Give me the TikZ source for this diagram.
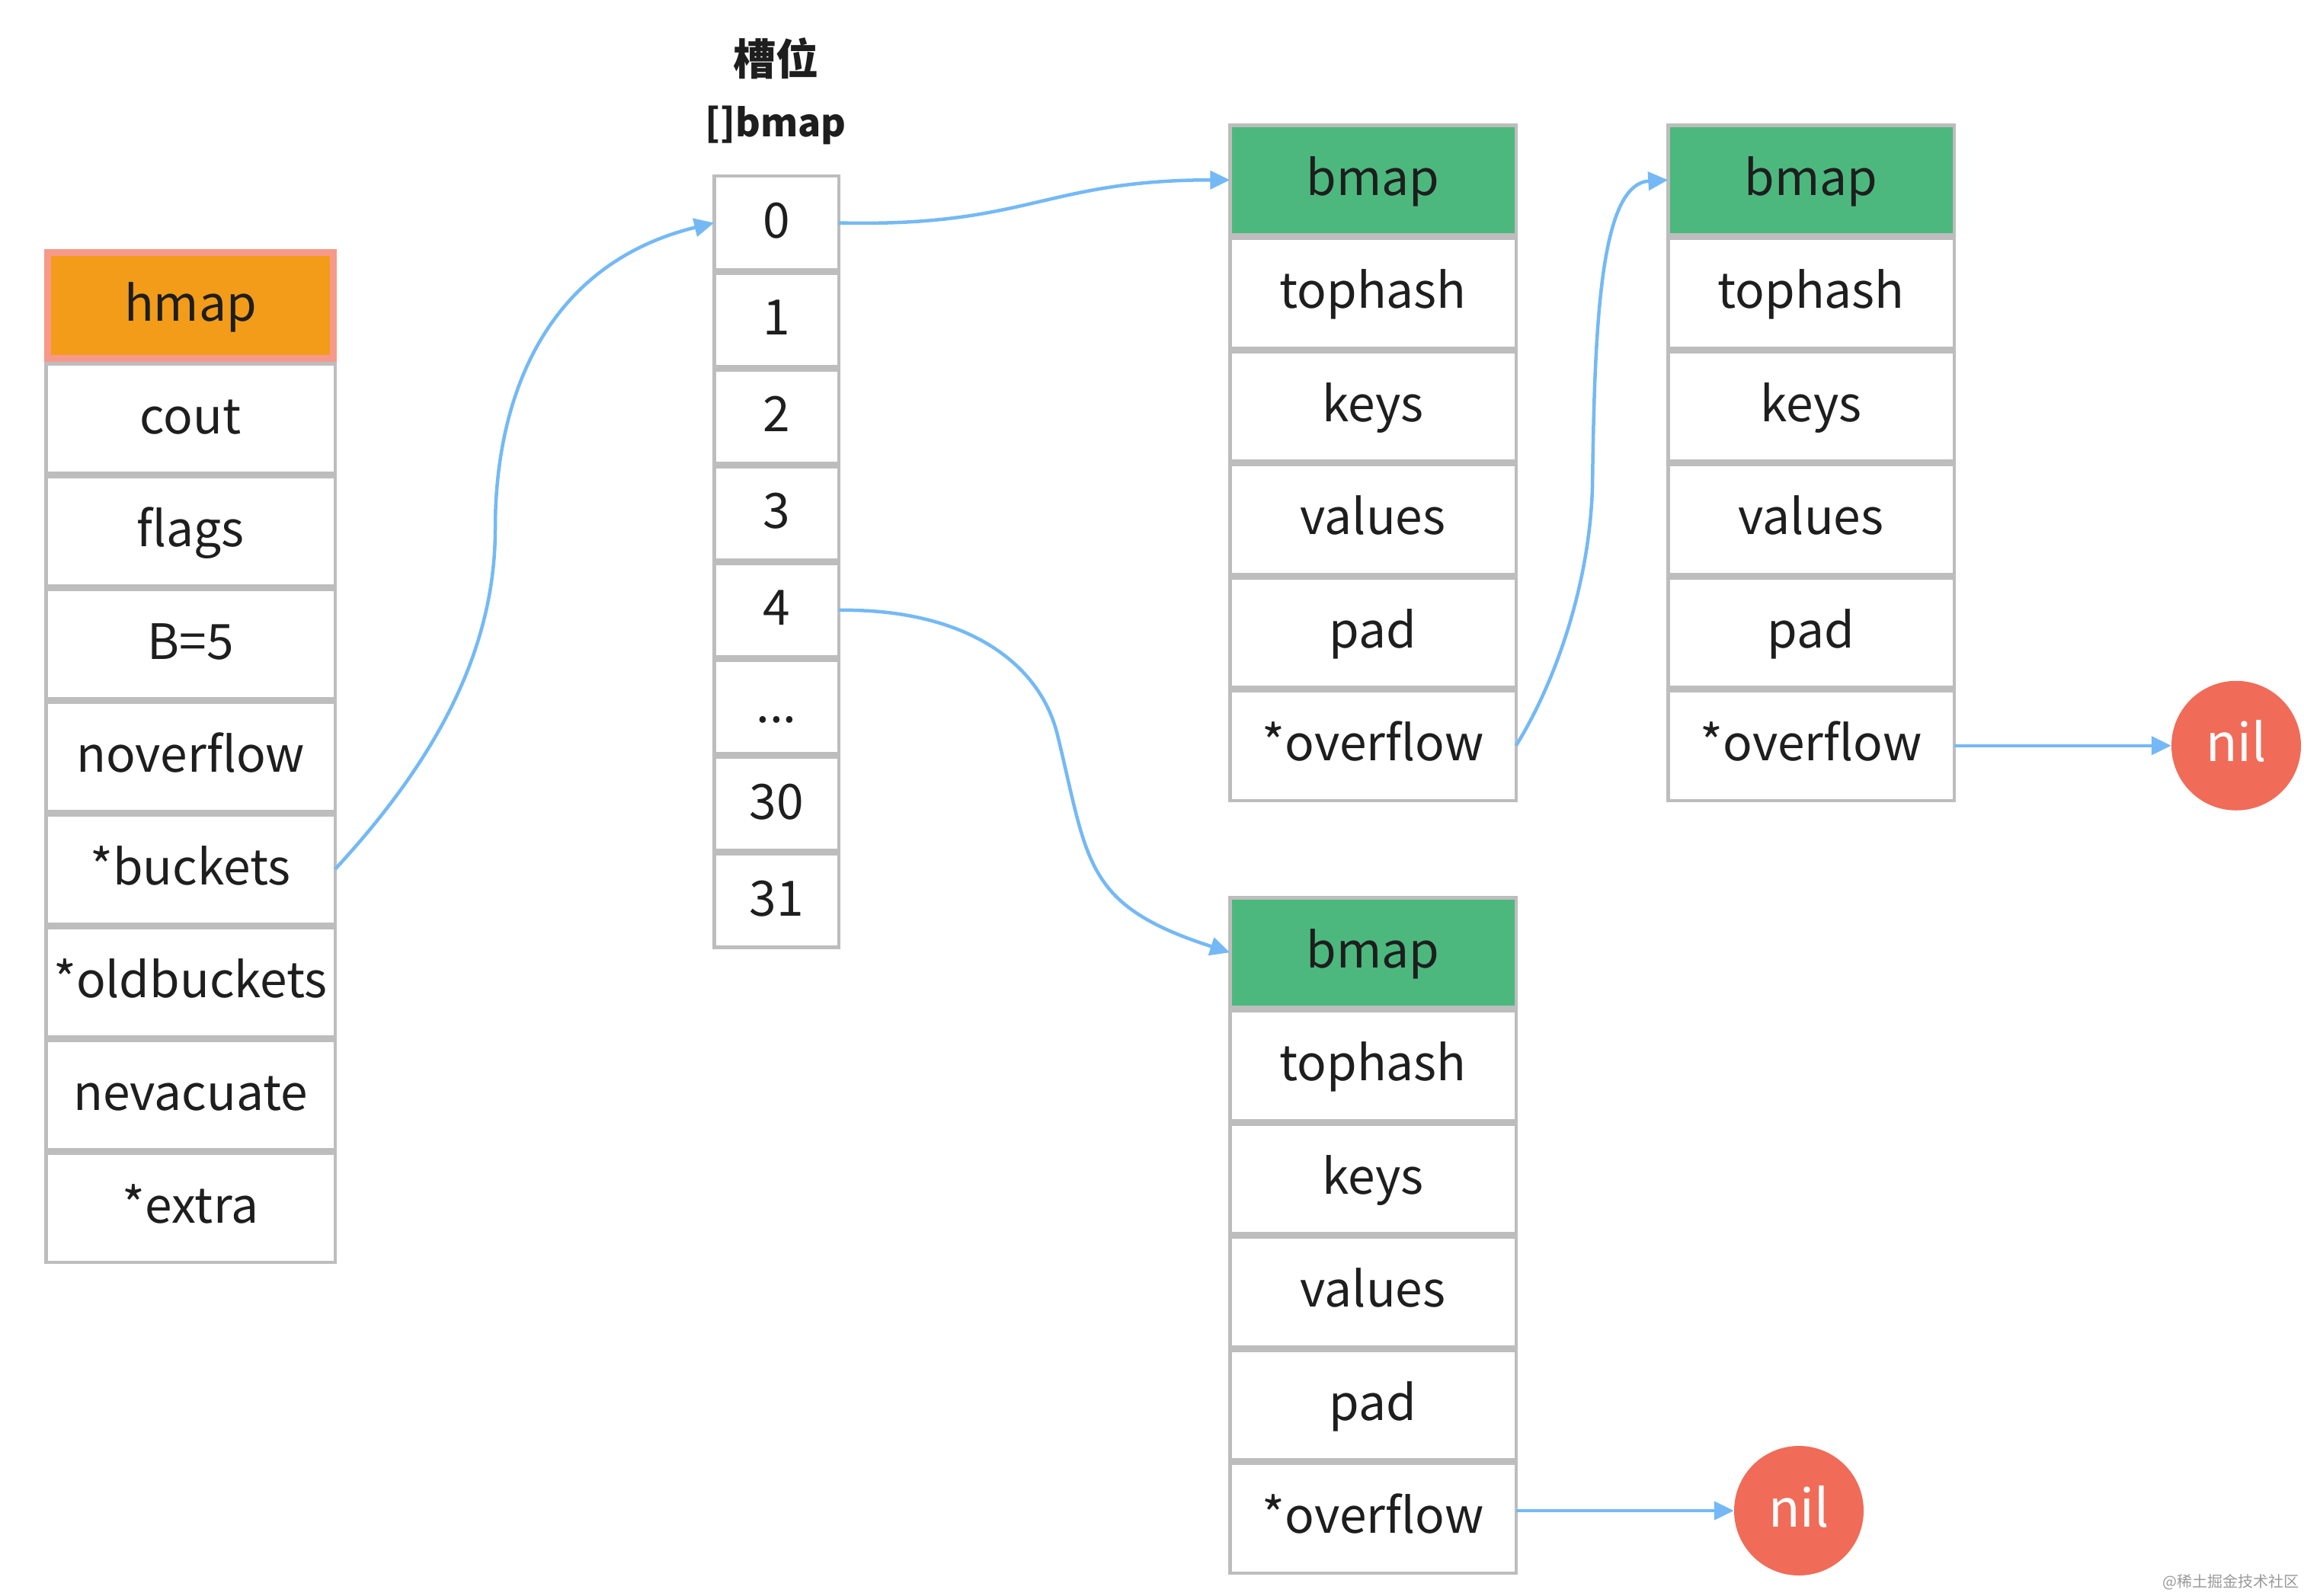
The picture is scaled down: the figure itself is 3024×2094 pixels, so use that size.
\documentclass[tikz,border=0pt]{standalone}
\usepackage{fontspec}
\setmainfont{Noto Sans CJK SC}
\usetikzlibrary{arrows.meta}
\definecolor{cellgray}{HTML}{BDBDBD}
\definecolor{hmapfill}{HTML}{F39C19}
\definecolor{hmapline}{HTML}{F7998A}
\definecolor{bgreen}{HTML}{4CB87E}
\definecolor{nilred}{HTML}{F06B58}
\definecolor{arrowblue}{HTML}{74B9F5}
\definecolor{txt}{HTML}{1E1E1E}
\newcommand\slotdots{...}
\begin{document}
\begin{tikzpicture}[x=1pt,y=-1pt,
  cellbox/.style={draw=cellgray, line width=4.5pt, fill=white, inner sep=0pt, outer sep=0pt,
    font=\fontsize{64}{72}\selectfont, text=txt, text height=48pt, text depth=8pt},
  hcell/.style={cellbox, minimum width=379.5pt, minimum height=143.5pt},
  scell/.style={cellbox, minimum width=163.5pt, minimum height=122.6pt},
  bcell/.style={cellbox, minimum width=375.5pt, minimum height=144pt},
  headgreen/.style={bcell, fill=bgreen},
  nilnode/.style={circle, fill=nilred, draw=none, minimum size=170pt, inner sep=0pt,
    font=\fontsize{68}{76}\selectfont, text=white, text height=50pt, text depth=8pt},
  conn/.style={draw=arrowblue, line width=4.5pt, -{Triangle[length=26pt,width=24pt]}}
]
\path[use as bounding box] (0,0) rectangle (3024,2094);

% hmap column
\node[hcell, fill=hmapfill, draw=hmapline, line width=9pt, minimum width=375pt, minimum height=139pt] (h0) at (250,401) {hmap};
\foreach \t [count=\i from 1] in {cout,flags,B=5,noverflow,*buckets,*oldbuckets,nevacuate,*extra}
  \node[hcell] (h\i) at (250,401+148*\i) {\t};

% slots
\node[font=\fontsize{56}{64}\selectfont\bfseries, text=txt, inner sep=0pt] (title1) at (1018,77) {槽位};
\node[font=\fontsize{50}{60}\selectfont\bfseries, text=txt, inner sep=0pt] (title2) at (1018,164) {[]bmap};
\foreach \t [count=\i from 0] in {0,1,2,3,4,\slotdots,30,31}
  \node[scell] (s\i) at (1019,292.5+127.1*\i) {\t};

% bucket column 1
\node[headgreen] (a0) at (1802,236.25) {bmap};
\foreach \t [count=\i from 1] in {tophash,keys,values,pad,*overflow}
  \node[bcell] (a\i) at (1802,236.25+148.5*\i) {\t};

% bucket column 2
\node[headgreen] (b0) at (2377,236.25) {bmap};
\foreach \t [count=\i from 1] in {tophash,keys,values,pad,*overflow}
  \node[bcell] (b\i) at (2377,236.25+148.5*\i) {\t};

% bucket column 3
\node[headgreen] (c0) at (1802,1250.25) {bmap};
\foreach \t [count=\i from 1] in {tophash,keys,values,pad,*overflow}
  \node[bcell] (c\i) at (1802,1250.25+148.5*\i) {\t};

% nil nodes
\node[nilnode] (nil1) at (2935,978.75) {nil};
\node[nilnode] (nil2) at (2361,1983) {nil};

% helper coordinates for the curved connectors
\coordinate (m1) at (650,694);
\coordinate (m2) at (1388,965);
\coordinate (m3) at (2090,640);

% connectors
\draw[conn] (h5.east) .. controls +(137,-148) and (650,849) .. (m1)
                      .. controls (650,521) and +(-221,54) .. (s0.west);
\draw[conn] (s0.east) .. controls +(247,6) and +(-243,0) .. (a0.west);
\draw[conn] (s4.east) .. controls +(167,-2) and (1365,870) .. (m2)
                      .. controls (1429,1133) and (1422,1188) .. (c0.west);
\draw[conn] (a5.east) .. controls +(50,-80) and (2086,770) .. (m3)
                      .. controls (2093,430) and +(-90,5) .. (b0.west);
\draw[conn] (b5.east) -- (nil1.west);
\draw[conn] (c5.east |- nil2.west) -- (nil2.west);

% watermark
\node[anchor=east, font=\fontsize{20}{24}\selectfont, text=gray!80, inner sep=0pt] (wm) at (3018,2077) {@稀土掘金技术社区};
\end{tikzpicture}
\end{document}
